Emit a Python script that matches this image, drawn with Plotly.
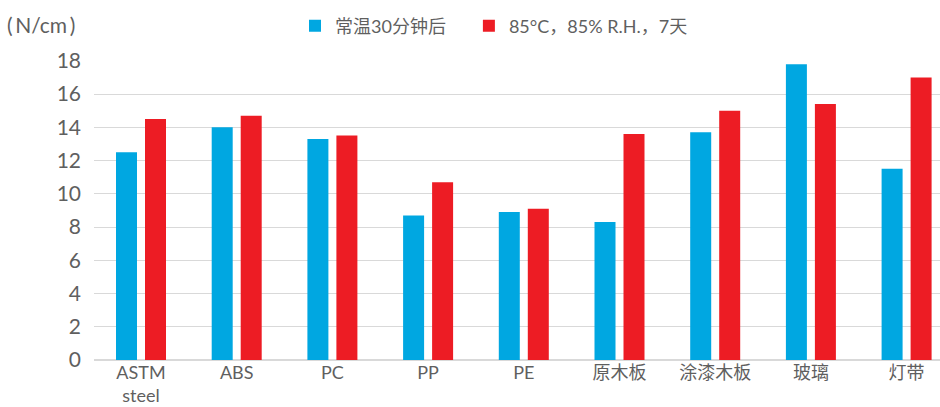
import plotly.graph_objects as go

categories = ["ASTM<br>steel", "ABS", "PC", "PP", "PE", "原木板", "涂漆木板", "玻璃", "灯带"]
room_temp_30min = [12.5, 14.0, 13.3, 8.7, 8.9, 8.3, 13.7, 17.8, 11.5]
humid_85c_7days = [14.5, 14.7, 13.5, 10.7, 9.1, 13.6, 15.0, 15.4, 17.0]
series_names = ["常温30分钟后", "85°C，85% R.H.，7天"]
y_ticks = [0, 2, 4, 6, 8, 10, 12, 14, 16, 18]

FONT = "Lato, 'Noto Sans CJK SC', sans-serif"
GRAY = "#5f5f5f"

W, H = 940, 407
L, R, T, B = 94, 0, 60, 47
PW, PH = W - L - R, H - T - B

CAT_W = 95.7          # pixels per category
FIRST_C = 141         # pixel centre of first category
x0 = (L - FIRST_C) / CAT_W
x1 = x0 + PW / CAT_W

fig = go.Figure()
fig.add_trace(go.Bar(x=categories, y=room_temp_30min,
                     name=series_names[0] + "\u2002\u2002",
                     marker=dict(color="#00A7E1", line=dict(width=0))))
fig.add_trace(go.Bar(x=categories, y=humid_85c_7days, name=series_names[1],
                     marker=dict(color="#ED1C24", line=dict(width=0))))

fig.update_layout(
    width=W, height=H,
    margin=dict(l=L, r=R, t=T, b=B, autoexpand=False),
    plot_bgcolor="white", paper_bgcolor="white",
    barmode="group", bargap=1 - 58 / CAT_W, bargroupgap=8 / 29,
    font=dict(family=FONT, color=GRAY),
    legend=dict(orientation="h", x=295 / W, xanchor="left", xref="container",
                y=1 - 26 / H, yanchor="middle", yref="container",
                font=dict(size=18, color=GRAY, family=FONT),
                bgcolor="rgba(0,0,0,0)", borderwidth=0),
    showlegend=True,
    xaxis=dict(showgrid=False, showline=False, ticks="", automargin=False,
               range=[x0, x1],
               tickfont=dict(size=18, color=GRAY, family=FONT)),
    yaxis=dict(range=[0, 18.05], tickvals=y_ticks, showgrid=True,
               gridcolor="#D9D9D9", gridwidth=1, zeroline=True,
               zerolinecolor="#D9D9D9", zerolinewidth=2, showline=False,
               ticks="", ticklabelstandoff=12, automargin=False,
               tickfont=dict(size=21, color=GRAY, family=FONT)),
    annotations=[dict(text="(\u2009N/cm\u2009)", x=(5 - L) / PW, xref="paper",
                      xanchor="left",
                      y=1 + (T - 25) / PH, yref="paper", yanchor="middle",
                      showarrow=False,
                      font=dict(size=21, color=GRAY, family=FONT))],
)

fig.write_html("out.html", config={"displayModeBar": False},
               post_script="document.body.style.margin='0';document.body.style.overflow='hidden';")
